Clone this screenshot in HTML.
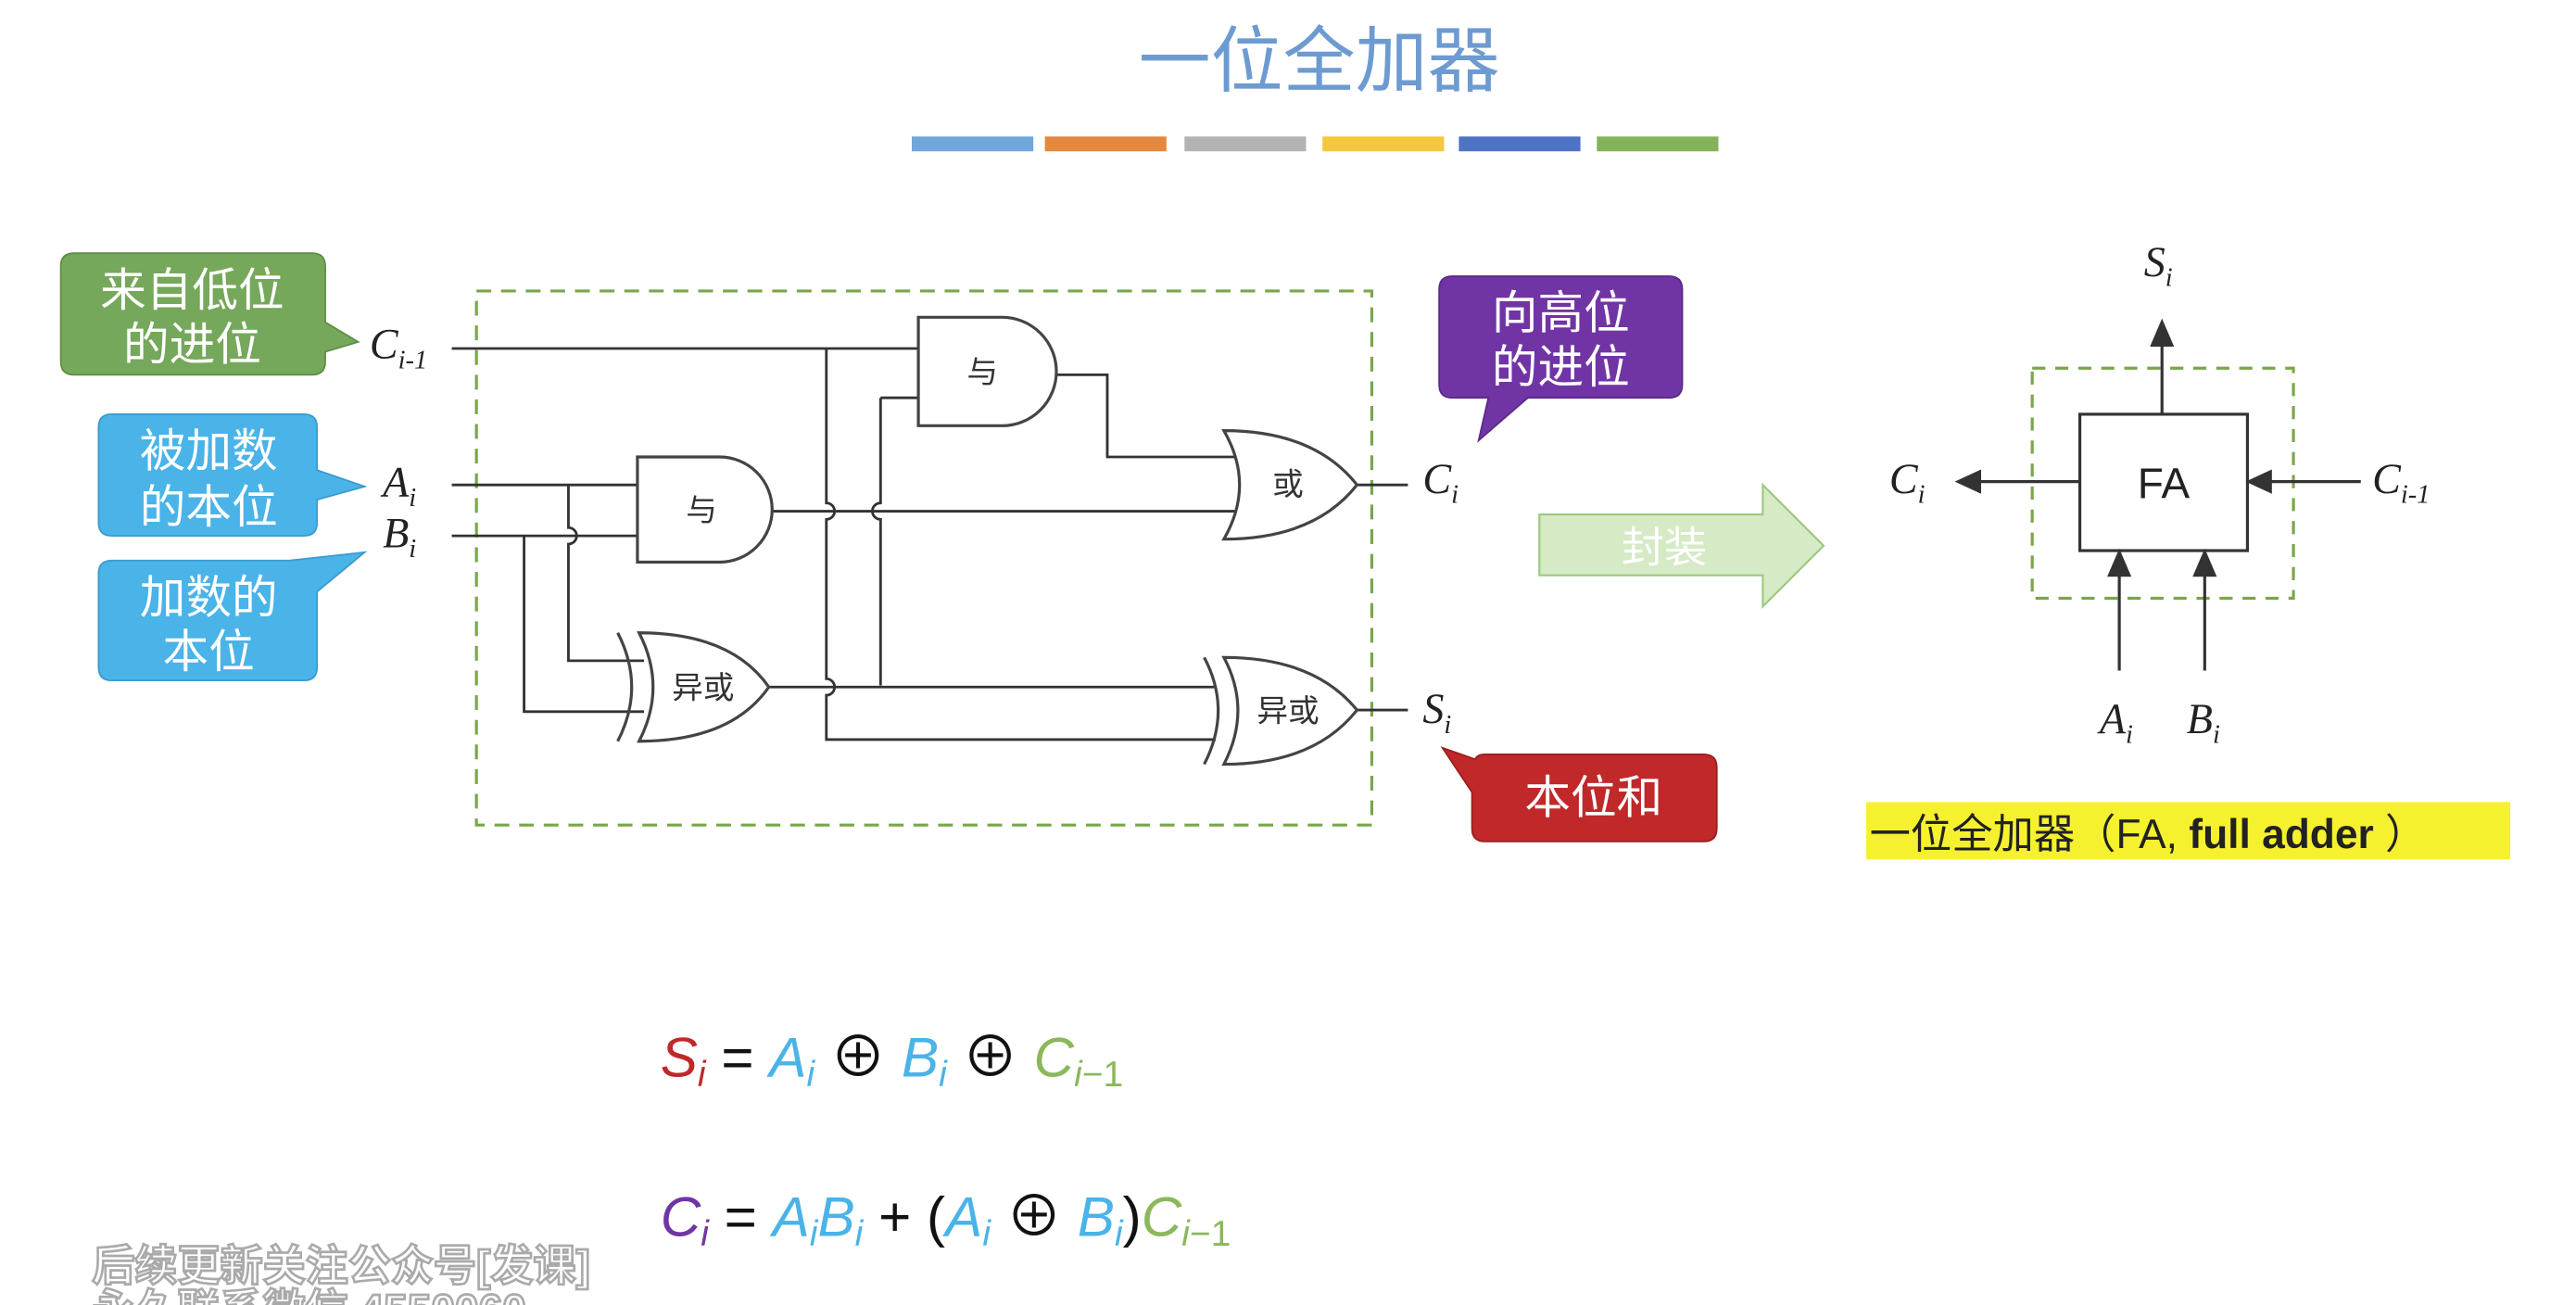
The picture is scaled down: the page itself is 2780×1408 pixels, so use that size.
<!DOCTYPE html>
<html><head><meta charset="utf-8"><style>
html,body{margin:0;padding:0;background:#fff;}
svg{display:block;}
</style></head><body>
<svg width="2780" height="1408" viewBox="0 0 1568 794" xmlns="http://www.w3.org/2000/svg" font-family="'Liberation Sans','Noto Sans CJK SC',sans-serif">
<rect width="1568" height="794" fill="#fff"/>
<!-- title -->
<text x="803" y="52" text-anchor="middle" font-size="44" fill="#6d9bd1">一位全加器</text>
<rect x="555" y="83" width="74" height="9" fill="#6fa6dc"/>
<rect x="636" y="83" width="74" height="9" fill="#e3883e"/>
<rect x="721" y="83" width="74" height="9" fill="#b3b3b5"/>
<rect x="805" y="83" width="74" height="9" fill="#f4c73f"/>
<rect x="888" y="83" width="74" height="9" fill="#4e73c4"/>
<rect x="972" y="83" width="74" height="9" fill="#84b25a"/>

<!-- dashed box -->
<rect x="290" y="177" width="545" height="325" fill="none" stroke="#7aa64a" stroke-width="1.8" stroke-dasharray="9,6"/>

<!-- callouts -->
<path d="M45,154 H190 Q198,154 198,162 V196 L218,208 L198,214 V220 Q198,228 190,228 H45 Q37,228 37,220 V162 Q37,154 45,154 Z" fill="#76a85b" stroke="#5e8d45" stroke-width="1"/>
<text x="117" y="186" text-anchor="middle" font-size="28" fill="#fff">来自低位</text>
<text x="117" y="219" text-anchor="middle" font-size="28" fill="#fff">的进位</text>

<path d="M68,252 H185 Q193,252 193,260 V286 L222,296 L193,304 V318 Q193,326 185,326 H68 Q60,326 60,318 V260 Q60,252 68,252 Z" fill="#4ab3e8" stroke="#3a9bd0" stroke-width="1"/>
<text x="127" y="284" text-anchor="middle" font-size="28" fill="#fff">被加数</text>
<text x="127" y="318" text-anchor="middle" font-size="28" fill="#fff">的本位</text>

<path d="M68,341 H176 L222,336 L193,360 V406 Q193,414 185,414 H68 Q60,414 60,406 V349 Q60,341 68,341 Z" fill="#4ab3e8" stroke="#3a9bd0" stroke-width="1"/>
<text x="127" y="373" text-anchor="middle" font-size="28" fill="#fff">加数的</text>
<text x="127" y="406" text-anchor="middle" font-size="28" fill="#fff">本位</text>

<path d="M884,168 H1016 Q1024,168 1024,176 V234 Q1024,242 1016,242 H930 L900,268 L906,242 H884 Q876,242 876,234 V176 Q876,168 884,168 Z" fill="#7134a5" stroke="#5a2a88" stroke-width="1"/>
<text x="950" y="200" text-anchor="middle" font-size="28" fill="#fff">向高位</text>
<text x="950" y="233" text-anchor="middle" font-size="28" fill="#fff">的进位</text>

<path d="M904,459 H1037 Q1045,459 1045,467 V504 Q1045,512 1037,512 H904 Q896,512 896,504 V482 L878,455 L898,462 Q899,459 904,459 Z" fill="#c0282a" stroke="#9a1f20" stroke-width="1"/>
<text x="970" y="495" text-anchor="middle" font-size="28" fill="#fff">本位和</text>

<!-- labels -->
<g font-family="'Liberation Serif',serif" font-style="italic" fill="#222">
<text x="225" y="218" font-size="26">C<tspan font-size="16" dy="6">i-1</tspan></text>
<text x="233" y="302" font-size="26">A<tspan font-size="16" dy="6">i</tspan></text>
<text x="233" y="333" font-size="26">B<tspan font-size="16" dy="6">i</tspan></text>
<text x="866" y="300" font-size="26">C<tspan font-size="16" dy="6">i</tspan></text>
<text x="866" y="440" font-size="26">S<tspan font-size="16" dy="6">i</tspan></text>
</g>

<!-- wires -->
<g fill="none" stroke="#333" stroke-width="1.6">
<path d="M275,212 H560"/>
<path d="M275,295 H388"/>
<path d="M275,326 H388"/>
<path d="M346,295 V321 A5,5 0 0 1 346,331 V402 H392"/>
<path d="M319,326 V433 H392"/>
<path d="M470,311 H752"/>
<path d="M503,212 V306 A5,5 0 0 1 503,316 V413 A5,5 0 0 1 503,423 V450 H740"/>
<path d="M536,242 H560 M536,242 V306 A5,5 0 0 0 536,316 V417"/>
<path d="M468,418 H740"/>
<path d="M643,228 H674 V278 H755"/>
<path d="M826,295 H857"/>
<path d="M826,432 H857"/>
</g>

<!-- gates -->
<g fill="#fff" stroke="#444" stroke-width="1.8">
<path d="M388,278 H438 A32,32 0 0 1 438,342 H388 Z"/>
<path d="M559,193 H610 A33,33 0 0 1 610,259 H559 Z"/>
<path d="M745,262 Q800,262 826,295 Q800,328 745,328 Q764,295 745,262 Z"/>
<path d="M389,385 Q445,385 468,418 Q445,451 389,451 Q406,418 389,385 Z"/>
<path d="M745,400 Q800,400 826,432 Q800,465 745,465 Q762,432 745,400 Z"/>
</g>
<g fill="none" stroke="#444" stroke-width="1.8">
<path d="M376,385 Q393,418 376,451"/>
<path d="M733,400 Q750,432 733,465"/>
</g>
<g font-size="19" fill="#333" text-anchor="middle">
<text x="598" y="233">与</text>
<text x="427" y="317">与</text>
<text x="784" y="301">或</text>
<text x="428" y="425">异或</text>
<text x="784" y="439">异或</text>
</g>

<!-- big arrow -->
<path d="M937,313 H1073 V295 L1110,332 L1073,369 V350 H937 Z" fill="#d6eac6" stroke="#9cc97c" stroke-width="1.2"/>
<text x="1013" y="342" text-anchor="middle" font-size="26" fill="#fff">封装</text>

<!-- FA block -->
<rect x="1237" y="224" width="159" height="140" fill="none" stroke="#7aa64a" stroke-width="1.8" stroke-dasharray="8,6"/>
<rect x="1266" y="252" width="102" height="83" fill="#fff" stroke="#333" stroke-width="1.8"/>
<text x="1317" y="303" text-anchor="middle" font-size="26" fill="#222">FA</text>
<g stroke="#333" stroke-width="1.8" fill="#333">
<line x1="1316" y1="252" x2="1316" y2="208"/><path d="M1310,210 L1316,196 L1322,210 Z"/>
<line x1="1266" y1="293" x2="1203" y2="293"/><path d="M1205,287 L1192,293 L1205,299 Z"/>
<line x1="1437" y1="293" x2="1380" y2="293"/><path d="M1382,287 L1369,293 L1382,299 Z"/>
<line x1="1290" y1="408" x2="1290" y2="348"/><path d="M1284,350 L1290,336 L1296,350 Z"/>
<line x1="1342" y1="408" x2="1342" y2="348"/><path d="M1336,350 L1342,336 L1348,350 Z"/>
</g>
<g font-family="'Liberation Serif',serif" font-style="italic" fill="#222">
<text x="1305" y="168" font-size="26">S<tspan font-size="16" dy="6">i</tspan></text>
<text x="1150" y="300" font-size="26">C<tspan font-size="16" dy="6">i</tspan></text>
<text x="1444" y="300" font-size="26">C<tspan font-size="16" dy="6">i-1</tspan></text>
<text x="1278" y="446" font-size="26">A<tspan font-size="16" dy="6">i</tspan></text>
<text x="1331" y="446" font-size="26">B<tspan font-size="16" dy="6">i</tspan></text>
</g>
<rect x="1136" y="488" width="392" height="35" fill="#f6f12f"/>
<text x="1138" y="516" font-size="25" fill="#222">一位全加器（FA, <tspan font-weight="bold">full adder</tspan> ）</text>

<!-- formulas -->
<g font-size="34">
<text x="402" y="655"><tspan fill="#c0282a" font-style="italic">S</tspan><tspan fill="#c0282a" font-style="italic" font-size="22" dy="6">i</tspan><tspan fill="#111" dy="-6"> = </tspan><tspan fill="#4ab3e8" font-style="italic">A</tspan><tspan fill="#4ab3e8" font-style="italic" font-size="22" dy="6">i</tspan><tspan fill="#111" dy="-6"> ⊕ </tspan><tspan fill="#4ab3e8" font-style="italic">B</tspan><tspan fill="#4ab3e8" font-style="italic" font-size="22" dy="6">i</tspan><tspan fill="#111" dy="-6"> ⊕ </tspan><tspan fill="#8bb85a" font-style="italic">C</tspan><tspan fill="#8bb85a" font-size="22" dy="6"><tspan font-style="italic">i</tspan>−1</tspan></text>
<text x="402" y="752"><tspan fill="#7134a5" font-style="italic">C</tspan><tspan fill="#7134a5" font-style="italic" font-size="22" dy="6">i</tspan><tspan fill="#111" dy="-6"> = </tspan><tspan fill="#4ab3e8" font-style="italic">A</tspan><tspan fill="#4ab3e8" font-style="italic" font-size="22" dy="6">i</tspan><tspan fill="#4ab3e8" font-style="italic" dy="-6">B</tspan><tspan fill="#4ab3e8" font-style="italic" font-size="22" dy="6">i</tspan><tspan fill="#111" dy="-6"> + (</tspan><tspan fill="#4ab3e8" font-style="italic">A</tspan><tspan fill="#4ab3e8" font-style="italic" font-size="22" dy="6">i</tspan><tspan fill="#111" dy="-6"> ⊕ </tspan><tspan fill="#4ab3e8" font-style="italic">B</tspan><tspan fill="#4ab3e8" font-style="italic" font-size="22" dy="6">i</tspan><tspan fill="#111" dy="-6">)</tspan><tspan fill="#8bb85a" font-style="italic">C</tspan><tspan fill="#8bb85a" font-size="22" dy="6"><tspan font-style="italic">i</tspan>−1</tspan></text>
</g>

<!-- watermark -->
<text x="56" y="779" font-size="26" font-weight="bold" fill="#fff" stroke="#aaa" stroke-width="1.5">后续更新关注公众号[发课]</text>
<text x="56" y="806" font-size="26" font-weight="bold" fill="#fff" stroke="#aaa" stroke-width="1.5">永久联系微信 4550060</text>
</svg>
</body></html>
